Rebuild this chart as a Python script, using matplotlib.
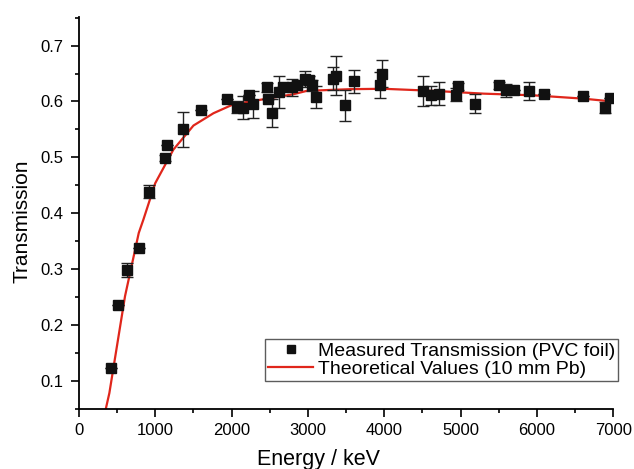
import matplotlib
matplotlib.use("Agg")
import matplotlib.pyplot as plt
from matplotlib.lines import Line2D
from matplotlib.ticker import MultipleLocator

plt.rcParams["font.family"] = ["Liberation Sans", "DejaVu Sans"]

# measured transmission (PVC foil)
energy = [424, 507, 625, 783, 922, 1124, 1154, 1365, 1596, 1941, 2068, 2147,
          2222, 2279, 2462, 2479, 2528, 2624, 2667, 2794, 2855, 2968, 3008,
          3060, 3109, 3327, 3371, 3489, 3598, 3948, 3970, 4512, 4613, 4722,
          4936, 4971, 5194, 5509, 5597, 5706, 5898, 6099, 6611, 6895, 6965]
trans = [0.123, 0.237, 0.299, 0.339, 0.439, 0.499, 0.523, 0.550, 0.585, 0.604,
         0.590, 0.589, 0.611, 0.595, 0.625, 0.604, 0.580, 0.617, 0.626, 0.625,
         0.630, 0.640, 0.638, 0.629, 0.608, 0.641, 0.646, 0.593, 0.636, 0.630,
         0.650, 0.619, 0.611, 0.614, 0.612, 0.627, 0.596, 0.629, 0.620, 0.621,
         0.619, 0.614, 0.610, 0.589, 0.607]
trans_err = [0.0, 0.0, 0.012, 0.0, 0.012, 0.006, 0.0, 0.032, 0.0, 0.0,
             0.01, 0.02, 0.0, 0.024, 0.008, 0.0, 0.025, 0.029, 0.0, 0.016,
             0.0, 0.014, 0.008, 0.01, 0.02, 0.02, 0.035, 0.027, 0.02, 0.023,
             0.025, 0.027, 0.017, 0.02, 0.012, 0.006, 0.017, 0.006, 0.012, 0.0,
             0.016, 0.0, 0.0, 0.01, 0.0]

# theoretical values (10 mm Pb)
theo_energy = [350, 398, 603, 783, 844, 999, 1237, 1500, 1762, 2024, 2375,
               2811, 2986, 3554, 3991, 4648, 5303, 5959, 6615, 6987]
theo_trans = [0.050, 0.079, 0.252, 0.365, 0.389, 0.454, 0.514, 0.557, 0.579,
              0.595, 0.603, 0.613, 0.619, 0.622, 0.6227, 0.619, 0.614, 0.611,
              0.605, 0.600]

fig = plt.figure(figsize=(6.34, 4.69), dpi=100)
ax = fig.add_axes([0.1246, 0.1273, 0.8425, 0.8365])

ax.errorbar(energy, trans, yerr=trans_err, fmt="s", color="#111111",
            ecolor="#222222", elinewidth=1.0, capsize=4, capthick=1.0,
            markersize=7, zorder=3)
ax.plot(theo_energy, theo_trans, color="#e0261b", lw=1.6, zorder=2)

ax.set_xlim(0, 7000)
ax.set_ylim(0.05, 0.751)
ax.xaxis.set_major_locator(MultipleLocator(1000))
ax.xaxis.set_minor_locator(MultipleLocator(500))
ax.yaxis.set_major_locator(MultipleLocator(0.1))
ax.yaxis.set_minor_locator(MultipleLocator(0.05))
ax.tick_params(which="major", direction="out", length=5.8, width=1.2, labelsize=12)
ax.tick_params(axis="y", which="major", pad=5.3)
ax.tick_params(axis="x", which="major", pad=4)
ax.tick_params(which="minor", direction="out", length=3, width=1.2)
for side in ("top", "right"):
    ax.spines[side].set_visible(False)
for side in ("left", "bottom"):
    ax.spines[side].set_linewidth(1.3)

ax.set_xlabel("Energy / keV", fontsize=15.5)
ax.xaxis.set_label_coords(0.448, -0.1)
ax.set_ylabel("Transmission", fontsize=15)
ax.yaxis.set_label_coords(-0.088, 0.48)

handles = [
    Line2D([], [], marker="s", ls="none", color="#111111", markersize=6),
    Line2D([], [], color="#e0261b", lw=1.6),
]
labels = ["Measured Transmission (PVC foil)", "Theoretical Values (10 mm Pb)"]
leg = ax.legend(handles, labels, loc="lower right",
                bbox_to_anchor=(618 / 634, 1 - 381 / 469),
                bbox_transform=fig.transFigure, fontsize=14, frameon=True,
                fancybox=False, edgecolor="#333333", borderpad=0.15,
                handlelength=2.3, handletextpad=0.25, labelspacing=0.05,
                borderaxespad=0)
leg.get_frame().set_linewidth(1.0)

fig.savefig("out.png", dpi=100)
